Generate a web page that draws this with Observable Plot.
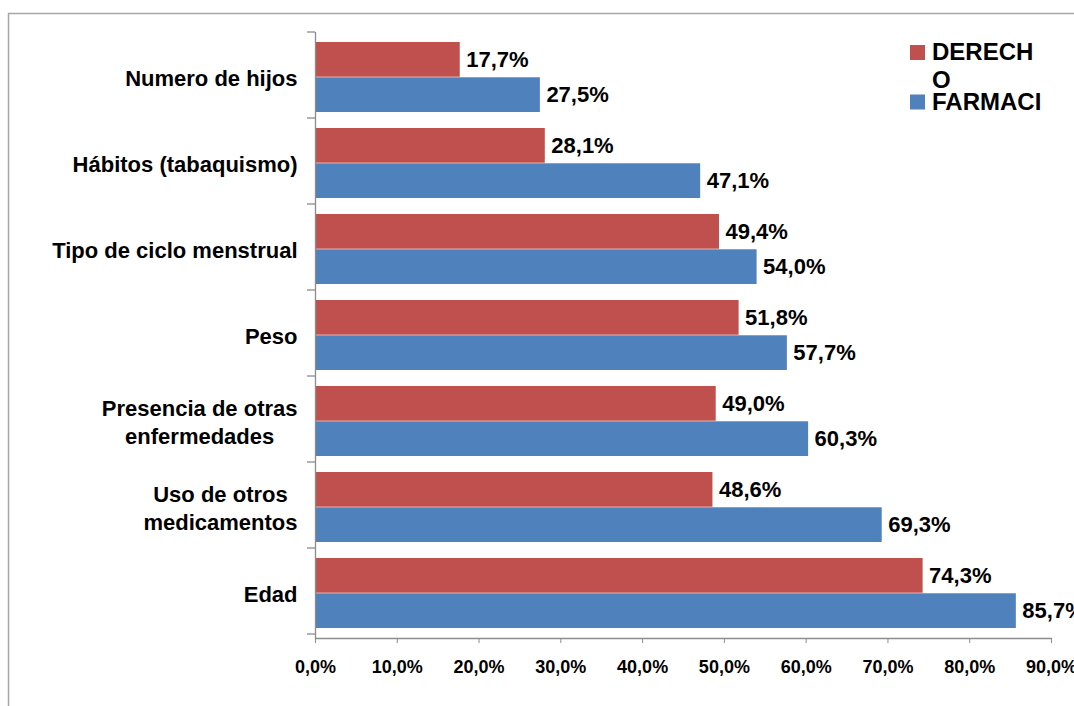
<!DOCTYPE html>
<html>
<head>
<meta charset="utf-8">
<script src="https://cdn.jsdelivr.net/npm/d3@7"></script>
<script src="https://cdn.jsdelivr.net/npm/@observablehq/plot@0.6"></script>
<style>
  html, body { margin: 0; padding: 0; background: #fff; overflow: hidden; }
  #chart svg { display: block; }
</style>
</head>
<body>
<div id="chart"></div>
<script>
// ---- data ----
const categories = ["Numero de hijos", "Hábitos (tabaquismo)", "Tipo de ciclo menstrual", "Peso", "Presencia de otras enfermedades", "Uso de otros medicamentos", "Edad"];
const categoryLabels = ["Numero de hijos", "Hábitos (tabaquismo)", "Tipo de ciclo menstrual", "Peso", "Presencia de otras\nenfermedades", "Uso de otros\nmedicamentos", "Edad"];
const series = ["DERECHO", "FARMACIA"];
const legendLabels = [["DERECH", "O"], ["FARMACI"]];
const derecho = [17.7, 28.1, 49.4, 51.8, 49.0, 48.6, 74.3];
const farmacia = [27.5, 47.1, 54.0, 57.7, 60.3, 69.3, 85.7];
const xTicks = [0, 10, 20, 30, 40, 50, 60, 70, 80, 90];
const colors = ["#C0504D", "#4F81BD"];

// ---- layout ----
const W = 1074, H = 706;
const mTop = 32, mBottom = 68, mLeft = 315, mRight = 23;
const pInner = 0.185, pOuter = pInner / 2;
const step = (H - mTop - mBottom) / (categories.length - pInner + 2 * pOuter);
const bw = step * (1 - pInner);
const half = bw / 2;
const font = "'Liberation Sans', Arial, sans-serif";
const fmt = v => v.toFixed(1).replace(".", ",") + "%";

const redData = categories.map((c, i) => ({category: c, series: series[0], value: derecho[i]}));
const blueData = categories.map((c, i) => ({category: c, series: series[1], value: farmacia[i]}));

const plot = Plot.plot({
  width: W, height: H,
  marginTop: mTop, marginBottom: mBottom, marginLeft: mLeft, marginRight: mRight,
  style: {fontFamily: font, background: "#fff", overflow: "hidden", color: "#000"},
  x: {domain: [0, 90], label: null},
  y: {domain: categories, paddingInner: pInner, paddingOuter: pOuter, align: 0.5, label: null},
  color: {domain: series, range: colors},
  marks: [
    Plot.barX(redData, {x: "value", y: "category", fill: "series", insetBottom: half, insetTop: 0}),
    Plot.barX(blueData, {x: "value", y: "category", fill: "series", insetTop: half, insetBottom: 0}),
    Plot.text(redData, {x: "value", y: "category", text: d => fmt(d.value), textAnchor: "start", dx: 6, dy: -half / 2, fontSize: 22, fontWeight: "bold", fill: "#000"}),
    Plot.text(blueData, {x: "value", y: "category", text: d => fmt(d.value), textAnchor: "start", dx: 6, dy: half / 2, fontSize: 22, fontWeight: "bold", fill: "#000"}),
    Plot.ruleX([0], {stroke: "#8c8c8c", strokeWidth: 1.3}),
    Plot.frame({anchor: "bottom", stroke: "#8c8c8c", strokeWidth: 1.3}),
    Plot.axisX({ticks: xTicks, tickFormat: fmt, tickSize: 5, tickPadding: 17, stroke: "#8c8c8c", fontSize: 18, fontWeight: "bold", fill: "#000", label: null}),
    Plot.axisY({tickSize: 0, tickPadding: 18, fontSize: 22, fontWeight: "bold", lineHeight: 1.27, fill: "#000",
      tickFormat: d => categoryLabels[categories.indexOf(d)], label: null})
  ]
});

document.getElementById("chart").appendChild(plot);

const svg = d3.select(plot);

// center the lines of multi-line category labels
svg.selectAll('g[aria-label="y-axis tick label"] text').each(function() {
  const tspans = this.querySelectorAll("tspan");
  if (tspans.length > 1) {
    let maxW = 0;
    tspans.forEach(t => { maxW = Math.max(maxW, t.getComputedTextLength()); });
    this.setAttribute("text-anchor", "middle");
    tspans.forEach(t => t.setAttribute("x", -maxW / 2));
  }
});

// category boundary ticks on the vertical axis
const yScale = plot.scale("y");
const r0 = yScale.range[0];
const bounds = d3.range(categories.length + 1).map(k => r0 + k * yScale.step);
svg.append("g").selectAll("line").data(bounds).join("line")
  .attr("x1", mLeft - 8).attr("x2", mLeft)
  .attr("y1", d => d).attr("y2", d => d)
  .attr("stroke", "#8c8c8c").attr("stroke-width", 1.3);

// outer chart border (top and left edges visible)
svg.append("path")
  .attr("d", `M8.5,${H} L8.5,13.5 L${W},13.5`)
  .attr("fill", "none").attr("stroke", "#a6a6a6").attr("stroke-width", 1.5);

// legend
const lg = svg.append("g").attr("font-family", font).attr("font-weight", "bold")
  .attr("font-size", 24).attr("text-anchor", "start").attr("fill", "#000");
lg.append("rect").attr("x", 910).attr("y", 45).attr("width", 15).attr("height", 15).attr("fill", colors[0]);
lg.append("text").attr("x", 932).attr("y", 60).text(legendLabels[0][0]);
lg.append("text").attr("x", 932).attr("y", 87.5).text(legendLabels[0][1]);
lg.append("rect").attr("x", 910).attr("y", 94.5).attr("width", 15).attr("height", 15).attr("fill", colors[1]);
lg.append("text").attr("x", 932).attr("y", 110).text(legendLabels[1][0]);
</script>
</body>
</html>
